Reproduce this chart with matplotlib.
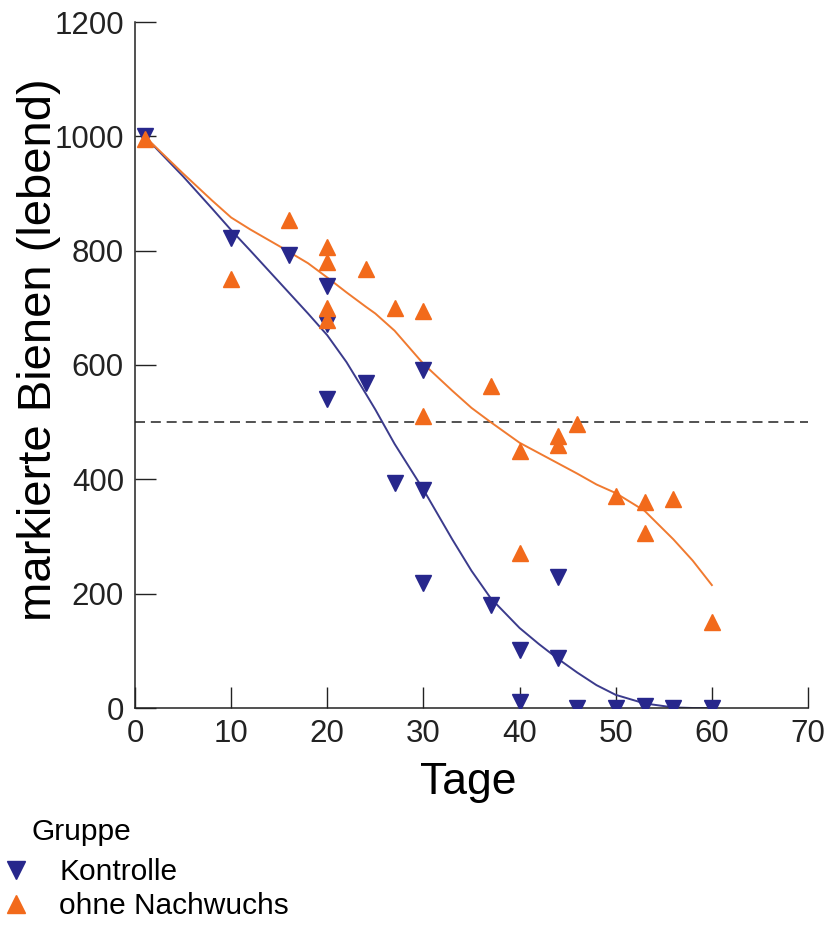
#
# Markierte Bienen: Kontrolle vs. ohne Nachwuchs
#

import numpy as np
import matplotlib
matplotlib.use("Agg")
import matplotlib.pyplot as plt
from matplotlib.lines import Line2D

plt.rcParams['font.family'] = ['Liberation Sans', 'DejaVu Sans']

# Messpunkte Kontrolle
kontrolle_tage = [1, 10, 16, 20, 20, 20, 24, 27, 30, 30, 30, 37, 40, 40, 44, 44, 46, 50, 53, 56, 60]
kontrolle_bienen = [1000, 822, 793, 738, 671, 540, 569, 393, 591, 382, 218, 180, 101, 10, 230, 87, 0, 0, 4, 0, 0]

# Messpunkte ohne Nachwuchs
ohne_tage = [1, 10, 16, 20, 20, 20, 20, 24, 27, 30, 30, 37, 40, 40, 44, 44, 46, 50, 53, 53, 56, 60]
ohne_bienen = [995, 750, 853, 806, 780, 700, 678, 768, 700, 695, 510, 563, 450, 272, 476, 460, 497, 371, 361, 306, 366, 151]

# geglaettete Kurven
kurve_tage = [1, 5, 8, 10, 12, 15, 18, 20, 22, 24, 25, 27, 30, 33, 35, 37, 40, 42, 44, 46, 48, 50, 53, 56, 58, 60]
kurve_kontrolle = [1000, 930, 874, 836, 800, 745, 690, 652, 605, 550, 522, 462, 382, 295, 240, 192,
                   140, 112, 86, 62, 40, 23, 8, 1, 0, 0]
kurve_ohne = [1000, 935, 888, 858, 837, 808, 778, 753, 727, 702, 690, 660, 602, 555, 525, 500,
              464, 446, 428, 410, 391, 376, 345, 295, 258, 215]

grenze = 500

blau = '#27278c'
orange = '#f26a1b'

fig = plt.figure(figsize=(8.28, 9.31), dpi=100)
ax = fig.add_axes([135/828, 1 - 708/931, (808 - 135)/828, (708 - 22)/931])

ax.axhline(grenze, color='#333333', lw=1.2, ls=(0, (6, 3.5)), zorder=1)
ax.plot(kurve_tage, kurve_kontrolle, color='#3b3b8c', lw=1.4, zorder=2)
ax.plot(kurve_tage, kurve_ohne, color='#f07a30', lw=1.4, zorder=2)

ax.plot(kontrolle_tage, kontrolle_bienen, 'v', color=blau, ms=12, ls='none', zorder=3)
ax.plot(ohne_tage, ohne_bienen, '^', color=orange, ms=12, ls='none', zorder=4)

ax.set_xlim(0, 70)
ax.set_ylim(0, 1200)
ax.set_xticks(np.arange(0, 71, 10))
ax.set_yticks(np.arange(0, 1201, 200))
ax.tick_params(direction='in', length=15, width=1, labelsize=22.5, pad=8, colors='#222222')
for s in ['top', 'right']:
    ax.spines[s].set_visible(False)
for s in ['left', 'bottom']:
    ax.spines[s].set_linewidth(1.1)
    ax.spines[s].set_color('#222222')

ax.set_xlabel('Tage', fontsize=32)
ax.set_ylabel('markierte Bienen (lebend)', fontsize=34)
ax.xaxis.set_label_coords(0.495, -0.078)
ax.yaxis.set_label_coords(-0.11, 0.522)

# Legende
fig.text(32/828, 1 - 840/931, 'Gruppe', fontsize=21.5, va='baseline', ha='left')
handles = [Line2D([], [], marker='v', color=blau, ls='none', ms=13),
           Line2D([], [], marker='^', color=orange, ls='none', ms=13)]
leg = fig.legend(handles, ['Kontrolle', 'ohne Nachwuchs'],
                 loc='upper left', bbox_to_anchor=(1/828, 1 - 858/931),
                 frameon=False, fontsize=21.5,
                 handlelength=1.0, handletextpad=0.95, labelspacing=0.2,
                 borderpad=0, borderaxespad=0)

fig.savefig('out.png', dpi=100)
